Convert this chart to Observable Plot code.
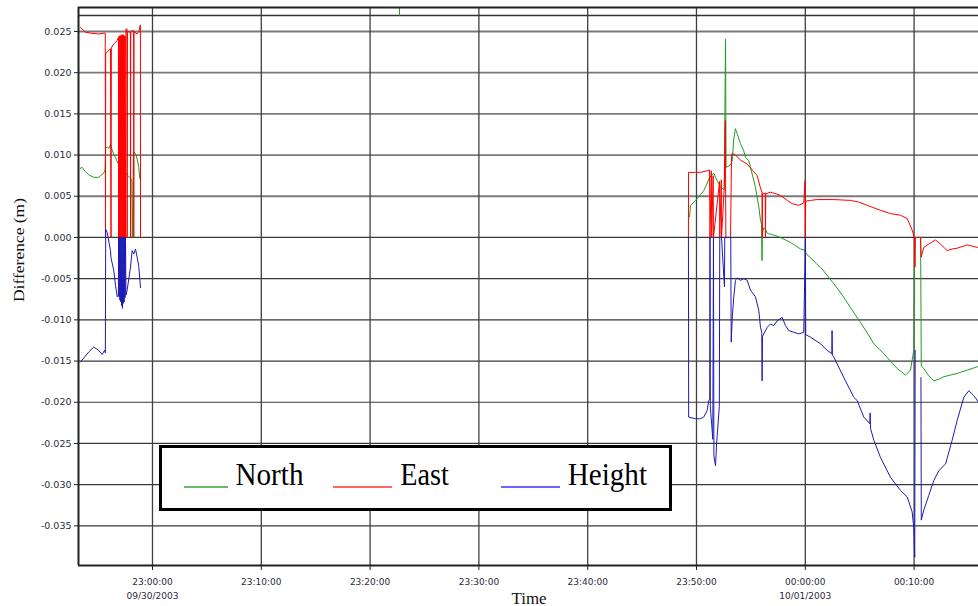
<!DOCTYPE html>
<html>
<head>
<meta charset="utf-8">
<script src="https://cdn.jsdelivr.net/npm/d3@7"></script>
<script src="https://cdn.jsdelivr.net/npm/@observablehq/plot@0.6"></script>
<style>
  html, body { margin: 0; padding: 0; background: #fff; }
  #wrap { position: relative; width: 978px; height: 606px; overflow: hidden; }
  #overlay { position: absolute; left: 0; top: 0; pointer-events: none; }
</style>
</head>
<body>
<div id="wrap"><div id="chart"></div>
<svg id="overlay" width="978" height="606" xmlns="http://www.w3.org/2000/svg">
  <text x="24" y="250" transform="rotate(-90 24 250)" text-anchor="middle" font-family="Liberation Serif, Times New Roman, serif" font-size="15.5" textLength="104" lengthAdjust="spacingAndGlyphs" fill="#111">Difference (m)</text>
  <text x="529" y="604" text-anchor="middle" font-family="Liberation Serif, Times New Roman, serif" font-size="16" textLength="35" lengthAdjust="spacingAndGlyphs" fill="#111">Time</text>
  <g id="legend"></g>
</svg>
</div>
<script>
// ---- data (minutes after 23:00:00 on 09/30/2003, difference in mm) ----
const northLeft = [
  [-6.62, 8.4], [-6.46, 8.5], [-6.16, 8.0], [-5.86, 7.6], [-5.40, 7.3], [-4.94, 7.3], [-4.78, 7.5],
  [-4.48, 7.8], [-4.36, 8.2], [-4.30, 10.8], [-4.16, 11.0], [-4.00, 10.8], [-3.86, 11.3], [-3.70, 10.6],
  [-3.56, 10.1], [-3.40, 9.7], [-3.24, 9.2], [-3.10, 8.8], [-2.90, 8.4], [-2.70, 8.1], [-2.50, 7.9],
  [-2.33, 7.6], [-2.02, 7.2], [-1.90, 7.0], [-1.86, 0], [-1.80, 5.0], [-1.76, 10.0], [-1.72, 10.4],
  [-1.56, 10.2], [-1.41, 9.5], [-1.26, 8.5], [-1.17, 7.2], [-1.10, 7.0]
];
const northTop = [[22.70, 26.95], [22.70, 28.2]];
const northRight = [
  [49.36, 2.5], [49.45, 3.9], [49.70, 4.2], [49.91, 4.5], [50.37, 5.2], [50.67, 5.7], [50.90, 6.3],
  [51.13, 7.1], [51.35, 7.5], [51.59, 7.8], [51.75, 7.3], [51.90, 6.9], [52.05, 6.5], [52.21, 6.1],
  [52.55, 5.8], [52.67, 24.1], [52.72, 8.5], [53.13, 8.8], [53.28, 9.3], [53.43, 12.0], [53.58, 13.2],
  [53.74, 12.6], [54.04, 11.4], [54.35, 10.5], [54.50, 9.7], [54.81, 9.3], [55.12, 7.7], [55.42, 6.1],
  [55.73, 3.7], [55.88, 2.1], [55.98, 1.6], [56.02, -2.8], [56.06, 0.6], [56.19, 1.2], [56.34, 1.0],
  [56.50, 0.5], [56.80, 0.4], [57.10, 0.3], [57.72, 0.0], [58.34, -0.4], [58.64, -0.6], [59.10, -1.0],
  [59.56, -1.4], [59.86, -1.5], [60.17, -2.1], [60.60, -2.6], [61.09, -3.3], [61.40, -3.6], [62.01, -4.6],
  [62.62, -5.6], [63.40, -7.0], [64.15, -8.5], [65.07, -10.3], [65.70, -11.6], [66.30, -12.9],
  [67.22, -14.1], [67.83, -15.0], [68.45, -15.9], [69.21, -16.7], [69.67, -16.1], [69.97, -13.7],
  [70.06, 0], [70.60, 0], [70.66, -15.6], [70.89, -15.9], [71.35, -16.8], [71.81, -17.4], [72.27, -17.2],
  [72.73, -16.9], [73.35, -16.7], [73.96, -16.5], [74.88, -16.1], [75.80, -15.7], [76.10, -15.6]
];
const eastLeft = [
  [-6.62, 25.5], [-6.30, 25.1], [-6.16, 24.9], [-5.70, 24.8], [-4.94, 24.7], [-4.41, 24.8], [-4.34, 24.8],
  [-4.32, 0], [-4.30, 22.3], [-4.16, 22.5], [-3.86, 22.9], [-3.81, 0], [-3.78, 23.0], [-3.56, 23.5],
  [-3.24, 23.9], [-3.13, 24.3], [-3.12, 0], [-3.08, 24.4], [-3.04, 0], [-3.00, 24.5], [-2.96, 0],
  [-2.92, 24.5], [-2.88, 0], [-2.84, 24.6], [-2.80, 0], [-2.76, 24.6], [-2.72, 0], [-2.68, 24.6],
  [-2.64, 0], [-2.60, 24.5], [-2.56, 0], [-2.52, 24.4], [-2.48, 0], [-2.44, 25.3], [-2.34, 25.3],
  [-2.33, 0], [-2.30, 25.0], [-2.03, 24.9], [-2.02, 0], [-2.00, 25.0], [-1.73, 25.1], [-1.72, 0],
  [-1.70, 25.0], [-1.41, 24.7], [-1.26, 25.0], [-1.11, 25.8], [-1.10, 0]
];
const eastRight = [
  [49.26, 0], [49.27, 7.9], [49.91, 7.9], [50.37, 7.9], [50.98, 8.1], [51.20, 8.2], [51.24, 0],
  [51.36, 8.1], [51.40, 0], [51.53, 7.5], [51.56, 0], [52.12, 6.8], [52.14, 0], [52.28, 7.0], [52.30, 0],
  [52.55, 6.0], [52.65, 14.2], [52.70, 0], [53.13, 0], [53.22, 9.8], [53.28, 10.2], [53.58, 10.0],
  [54.04, 9.4], [54.66, 8.9], [55.12, 8.2], [55.58, 7.5], [55.88, 6.0], [56.02, 5.5], [56.04, 0],
  [56.08, 5.4], [56.19, 5.3], [56.32, 5.4], [56.34, 0], [56.37, 5.3], [56.80, 5.5], [57.30, 5.3],
  [57.72, 5.1], [58.34, 4.5], [58.80, 4.1], [59.40, 3.9], [59.86, 4.2], [59.98, 6.9], [60.00, 0],
  [60.04, 4.4], [60.48, 4.5], [61.09, 4.6], [62.62, 4.6], [64.15, 4.5], [64.90, 4.3], [65.69, 3.9],
  [66.30, 3.6], [66.91, 3.3], [67.83, 2.9], [68.75, 2.7], [69.37, 2.3], [69.82, 0.9], [70.04, -0.1],
  [70.08, -3.6], [70.12, 0], [70.60, 0], [70.65, -2.4], [70.89, -1.2], [71.35, -0.8], [71.97, -0.3],
  [72.43, -0.8], [73.04, -1.6], [73.50, -1.4], [73.96, -1.3], [74.88, -0.9], [75.80, -1.2], [76.10, -1.1]
];
const heightLeft = [
  [-6.62, -15.1], [-6.30, -14.6], [-5.86, -13.9], [-5.40, -13.3], [-4.94, -13.7], [-4.62, -14.2],
  [-4.41, -13.7], [-4.33, -14.0], [-4.30, 1.0], [-4.16, 0.6], [-3.86, -1.6], [-3.81, -2.5], [-3.56, -4.0],
  [-3.40, -5.8], [-3.24, -7.2], [-3.13, -7.0], [-3.12, 0], [-3.08, -7.2], [-3.04, 0], [-3.00, -7.6],
  [-2.96, 0], [-2.92, -7.8], [-2.88, 0], [-2.84, -8.3], [-2.80, 0], [-2.76, -8.6], [-2.72, 0],
  [-2.68, -8.0], [-2.64, 0], [-2.60, -7.8], [-2.56, 0], [-2.52, -7.3], [-2.48, 0], [-2.44, -7.0],
  [-2.33, -6.4], [-2.02, -3.6], [-1.87, -1.6], [-1.72, -2.0], [-1.56, -1.4], [-1.41, -2.4], [-1.26, -3.5],
  [-1.10, -6.1]
];
const heightRightA = [
  [49.26, 0], [49.28, -21.8], [49.91, -22.0], [50.37, -22.0], [50.67, -21.8], [50.98, -21.0],
  [51.13, -19.8], [51.22, -19.6], [51.24, 0], [51.27, -20.5], [51.50, -24.5], [51.56, 0], [51.60, -26.5],
  [51.75, -27.7], [51.85, -25.0], [52.10, -20.5], [52.14, 0], [52.30, 0], [52.57, -6.0], [52.60, 0],
  [53.15, 0], [53.19, -12.7], [53.30, -9.5], [53.43, -7.2], [53.58, -5.2], [53.74, -4.9], [54.04, -5.2],
  [54.35, -5.0], [54.66, -5.2], [54.96, -6.4], [55.42, -7.2], [55.73, -8.9], [55.88, -10.9], [56.00, -11.5],
  [56.03, -17.4], [56.07, -12.0], [56.19, -11.7], [56.50, -10.9], [56.80, -10.5], [57.10, -10.7],
  [57.42, -10.1], [57.88, -9.7], [58.18, -10.7], [58.48, -11.3], [58.94, -11.5], [59.40, -11.7],
  [59.86, -11.5], [60.01, 0], [60.04, -11.8], [60.48, -12.1], [61.40, -12.9], [62.01, -13.7],
  [62.44, -14.1], [62.46, -11.3], [62.49, -14.3], [62.62, -14.5], [63.54, -17.0], [64.46, -19.4],
  [64.77, -19.8], [65.38, -21.8], [65.93, -22.6], [65.96, -21.3], [66.00, -23.2], [66.30, -24.6],
  [66.91, -26.7], [67.83, -29.1], [68.75, -30.7], [69.37, -31.5], [69.82, -33.3], [69.97, -35.2],
  [70.06, -38.8], [70.10, -13.7]
];
const heightRightB = [
  [70.63, -17.0], [70.66, -34.3], [70.89, -33.1], [71.35, -31.3], [71.81, -29.5], [72.27, -28.3],
  [72.89, -27.5], [73.50, -24.6], [73.96, -22.2], [74.57, -19.4], [75.03, -18.6], [75.49, -19.2],
  [75.92, -20.0], [76.10, -20.2]
];

const xDomainMinutes = [-6.80, 75.92];
const yDomain = [-0.03981, 0.02791];
const topBand = [0.02694];
const xTickMinutes = [0, 10, 20, 30, 40, 50, 60, 70];
const xTickLabels = ["23:00:00\n09/30/2003", "23:10:00", "23:20:00", "23:30:00", "23:40:00", "23:50:00", "00:00:00\n10/01/2003", "00:10:00"];
const yTicks = [-0.035, -0.030, -0.025, -0.020, -0.015, -0.010, -0.005, 0.000, 0.005, 0.010, 0.015, 0.020, 0.025];
const seriesNames = ["North", "East", "Height"];
const seriesColors = ["#1e9e1e", "#ff0000", "#1c1cb4"];
const legendColors = ["#35a335", "#ff3535", "#3535ff"];

// ---- build ----
const t0 = Date.UTC(2003, 8, 30, 23, 0, 0);
const toDate = m => new Date(t0 + m * 60000);
const rows = (name, seg, arr) => arr.map(([m, v]) => ({series: name, seg: name + seg, t: toDate(m), v: v / 1000}));
const data = [
  ...rows("North", "L", northLeft), ...rows("North", "T", northTop), ...rows("North", "R", northRight),
  ...rows("East", "L", eastLeft), ...rows("East", "R", eastRight),
  ...rows("Height", "L", heightLeft), ...rows("Height", "A", heightRightA), ...rows("Height", "B", heightRightB)
];
const xTicks = xTickMinutes.map(toDate);
const labelByTime = new Map(xTicks.map((d, i) => [+d, xTickLabels[i]]));
const xDomain = xDomainMinutes.map(toDate);

const marks = [
  Plot.gridY(yTicks.filter(v => v > 0.001), {stroke: "#7a7a7a", strokeOpacity: 1, strokeWidth: 1.8}),
  Plot.gridY(yTicks.filter(v => v <= 0.001), {stroke: "#383838", strokeOpacity: 1, strokeWidth: 1.2}),
  Plot.gridX(xTicks, {stroke: "#404040", strokeOpacity: 1, strokeWidth: 1.3}),
  Plot.ruleY(topBand, {stroke: "#333", strokeWidth: 1.6})
];
seriesNames.forEach((name, i) => {
  marks.push(Plot.line(data.filter(d => d.series === name), {
    x: "t", y: "v", z: "seg", stroke: seriesColors[i], strokeWidth: 1, clip: true
  }));
});
marks.push(
  Plot.ruleX([xDomain[0]], {stroke: "#222", strokeWidth: 2}),
  Plot.ruleY([yDomain[0]], {stroke: "#222", strokeWidth: 2}),
  Plot.ruleY([yDomain[1]], {stroke: "#222", strokeWidth: 2}),
  Plot.axisY(yTicks, {tickSize: 4, tickPadding: 3, tickFormat: d => d.toFixed(3), fontSize: 9.5, fill: "#2a2a3a", stroke: "#222", label: null}),
  Plot.axisX(xTicks, {tickSize: 5, tickPadding: 5, tickFormat: d => labelByTime.get(+d), fontSize: 9, lineHeight: 1.55, fill: "#2a2a3a", stroke: "#222", label: null})
);

const chart = Plot.plot({
  width: 978,
  height: 606,
  marginLeft: 78,
  marginRight: 0,
  marginTop: 7,
  marginBottom: 41,
  style: {fontFamily: "DejaVu Sans, sans-serif", background: "white", overflow: "visible"},
  x: {type: "utc", domain: xDomain},
  y: {domain: yDomain},
  marks
});
document.getElementById("chart").appendChild(chart);

// ---- legend (box inside the plot area) ----
const ns = "http://www.w3.org/2000/svg";
const lg = document.getElementById("legend");
function el(tag, attrs, text) {
  const e = document.createElementNS(ns, tag);
  for (const k in attrs) e.setAttribute(k, attrs[k]);
  if (text != null) e.textContent = text;
  lg.appendChild(e);
  return e;
}
el("rect", {x: 160.5, y: 446.5, width: 510, height: 63, fill: "white", stroke: "#000", "stroke-width": 3});
const legendItems = [
  {line: [184, 228], textX: 235.5, textLen: 68},
  {line: [333, 392], textX: 400.3, textLen: 48.6},
  {line: [501, 560], textX: 567.7, textLen: 79.3}
];
legendItems.forEach((it, i) => {
  el("line", {x1: it.line[0], x2: it.line[1], y1: 487, y2: 487, stroke: legendColors[i], "stroke-width": 1.6});
  el("text", {x: it.textX, y: 484.5, "font-family": "Liberation Serif, Times New Roman, serif", "font-size": 31,
    textLength: it.textLen, lengthAdjust: "spacingAndGlyphs", fill: "#000"}, seriesNames[i]);
});
</script>
</body>
</html>
